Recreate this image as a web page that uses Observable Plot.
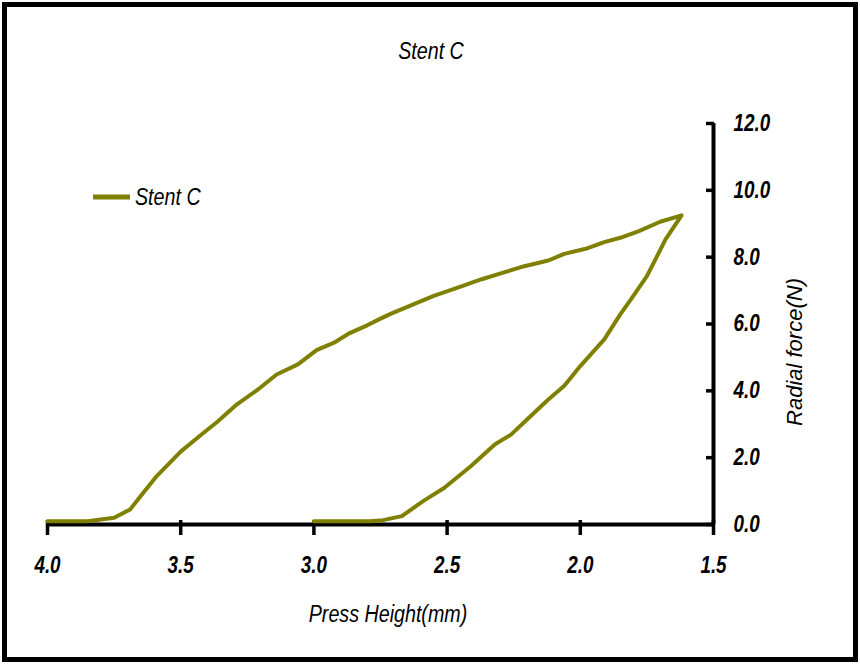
<!DOCTYPE html>
<html><head><meta charset="utf-8">
<script src="https://cdn.jsdelivr.net/npm/d3@7"></script>
<script src="https://cdn.jsdelivr.net/npm/@observablehq/plot@0.6"></script>
<style>body{margin:0;background:#fff} svg{display:block}</style>
</head><body><div id="chart"></div>
<script>
const chartTitle = "Stent C";
const seriesName = "Stent C";
const xLabel = "Press Height(mm)";
const yLabel = "Radial force(N)";
const xTicks = [4.0, 3.5, 3.0, 2.5, 2.0, 1.5];
const yTicks = [0, 2, 4, 6, 8, 10, 12];
const loadHeight = [4.00, 3.85, 3.75, 3.69, 3.65, 3.59, 3.50, 3.43, 3.36, 3.29, 3.21, 3.14, 3.06, 2.99, 2.92, 2.87, 2.80, 2.75, 2.71, 2.62, 2.55, 2.46, 2.37, 2.28, 2.21, 2.12, 2.06, 1.98, 1.91, 1.85, 1.78, 1.70, 1.62];
const loadForce = [0.1, 0.1, 0.2, 0.45, 0.85, 1.45, 2.18, 2.64, 3.09, 3.59, 4.04, 4.49, 4.79, 5.22, 5.46, 5.71, 5.96, 6.16, 6.31, 6.61, 6.84, 7.09, 7.34, 7.56, 7.73, 7.90, 8.10, 8.25, 8.45, 8.58, 8.78, 9.06, 9.25];
const unloadHeight = [1.62, 1.68, 1.75, 1.81, 1.85, 1.91, 2.00, 2.06, 2.12, 2.20, 2.26, 2.32, 2.41, 2.51, 2.59, 2.67, 2.74, 2.79, 3.00];
const unloadForce = [9.25, 8.53, 7.43, 6.74, 6.29, 5.54, 4.74, 4.15, 3.74, 3.14, 2.69, 2.40, 1.75, 1.10, 0.70, 0.25, 0.13, 0.1, 0.1];

const path = [
  ...loadHeight.map((h, i) => ({h, f: loadForce[i]})),
  ...unloadHeight.slice(1).map((h, i) => ({h, f: unloadForce[i + 1]}))
];

const fontFam = "'Liberation Sans',Arial,sans-serif";
const narrow = 0.82;
const tickFont = {fontSize: 23, fontWeight: "bold", fontStyle: "italic", fill: "#000"};
const olive = "#808000";

const svg = Plot.plot({
  width: 860, height: 665,
  marginLeft: 47, marginRight: 147, marginTop: 123, marginBottom: 141,
  x: {domain: [4.0, 1.5]},
  y: {domain: [0, 12]},
  style: {fontFamily: fontFam, background: "#fff", color: "#000"},
  marks: [
    Plot.ruleY([0], {stroke: "#000", strokeWidth: 4}),
    Plot.ruleX([1.5], {stroke: "#000", strokeWidth: 4}),
    Plot.axisX(xTicks, {anchor: "bottom", tickSize: 15, dy: -4, tickFormat: () => "", label: null, strokeWidth: 3.5, stroke: "#000"}),
    Plot.axisX(xTicks, {anchor: "bottom", tickSize: 0, tickPadding: 32, tickFormat: d => d.toFixed(1), label: null, ...tickFont}),
    Plot.axisY(yTicks, {anchor: "right", tickSize: 8, dx: -8, tickFormat: () => "", label: null, strokeWidth: 3.5, stroke: "#000"}),
    Plot.axisY(yTicks, {anchor: "right", tickSize: 0, tickPadding: 20, tickFormat: d => d.toFixed(1), label: null, ...tickFont}),
    Plot.line(path, {x: "h", y: "f", stroke: olive, strokeWidth: 4, strokeLinejoin: "round", strokeLinecap: "round"})
  ]
});

const s = d3.select(svg);
// condense tick label glyphs horizontally (narrow face look)
s.selectAll("g[aria-label$='tick label'] text").each(function () {
  const t = this.getAttribute("transform") || "";
  this.setAttribute("transform", t + ` scale(${narrow},1)`);
});
s.append("rect").attr("x", 4.5).attr("y", 4.5).attr("width", 851).attr("height", 655)
  .attr("fill", "none").attr("stroke", "#000").attr("stroke-width", 5);
function label(str, x, y, anchor, size, rotate) {
  s.append("text")
    .attr("transform", rotate
      ? `translate(${x},${y}) rotate(-90)`
      : `translate(${x},${y}) scale(${narrow},1)`)
    .attr("text-anchor", anchor)
    .attr("font-family", fontFam).attr("font-style", "italic").attr("font-size", size).attr("fill", "#000")
    .text(str);
}
label(chartTitle, 431, 59, "middle", 24, false);
s.append("line").attr("x1", 93).attr("x2", 130).attr("y1", 197).attr("y2", 197)
  .attr("stroke", olive).attr("stroke-width", 5);
label(seriesName, 135, 205, "start", 24, false);
label(xLabel, 388, 622, "middle", 24, false);
label(yLabel, 802, 352, "middle", 22, true);

document.getElementById("chart").appendChild(svg);
</script>
</body></html>
